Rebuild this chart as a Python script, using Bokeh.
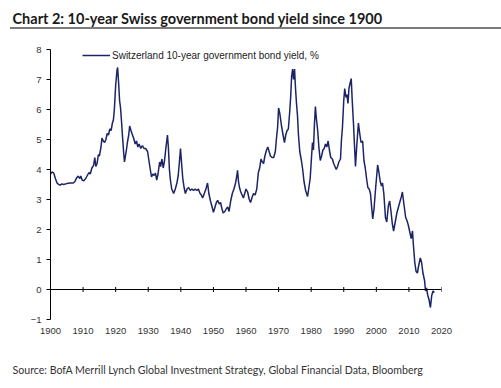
import math
from bokeh.plotting import figure
from bokeh.models import FixedTicker, Range1d, Legend, LegendItem, Span, Div
from bokeh.layouts import column
from bokeh.embed import file_html
from bokeh.resources import INLINE

# ---------------- data ----------------
years = [1900.0, 1900.5, 1901.0, 1901.5, 1902.0, 1902.5, 1903.0, 1903.5, 1904.0, 1905.0,
         1906.0, 1907.0, 1907.5, 1908.0, 1908.5, 1909.0, 1909.3, 1909.7, 1910.2, 1910.8,
         1911.3, 1911.8, 1912.2, 1912.7, 1913.2, 1913.6, 1913.9, 1914.3, 1914.7, 1915.0,
         1915.5, 1915.8, 1916.2, 1916.6, 1917.0, 1917.4, 1917.8, 1918.2, 1918.6, 1919.0,
         1919.3, 1919.6, 1920.0, 1920.4, 1920.6, 1920.9, 1921.2, 1921.5, 1921.8, 1922.1,
         1922.5, 1922.7, 1923.0, 1923.3, 1923.6, 1924.0, 1924.3, 1924.7, 1925.0, 1925.5,
         1926.0, 1926.4, 1926.8, 1927.2, 1927.7, 1928.2, 1928.7, 1929.2, 1929.8, 1930.2,
         1930.7, 1931.0, 1931.4, 1931.8, 1932.2, 1932.6, 1933.0, 1933.5, 1933.8, 1934.2,
         1934.6, 1935.0, 1935.5, 1935.9, 1936.2, 1936.5, 1936.8, 1937.2, 1937.8, 1938.3,
         1938.8, 1939.2, 1939.6, 1939.9, 1940.2, 1940.6, 1941.0, 1941.4, 1941.9, 1942.4,
         1942.9, 1943.4, 1943.9, 1944.4, 1944.9, 1945.4, 1945.9, 1946.3, 1946.7, 1947.2,
         1947.7, 1948.2, 1948.6, 1949.1, 1949.6, 1950.0, 1950.5, 1950.9, 1951.3, 1951.8,
         1952.2, 1952.6, 1953.0, 1953.5, 1954.0, 1954.4, 1954.8, 1955.3, 1955.8, 1956.3,
         1956.8, 1957.2, 1957.4, 1957.7, 1958.0, 1958.4, 1958.8, 1959.2, 1959.6, 1960.0,
         1960.5, 1961.0, 1961.4, 1961.8, 1962.3, 1962.8, 1963.3, 1963.8, 1964.2, 1964.6,
         1965.0, 1965.4, 1965.8, 1966.3, 1966.7, 1967.1, 1967.5, 1968.0, 1968.5, 1969.0,
         1969.4, 1969.7, 1970.0, 1970.4, 1970.9, 1971.3, 1971.8, 1972.2, 1972.6, 1973.0,
         1973.4, 1973.7, 1974.0, 1974.3, 1974.6, 1974.9, 1975.2, 1975.5, 1975.8, 1976.1,
         1976.5, 1977.0, 1977.4, 1977.8, 1978.3, 1978.9, 1979.3, 1979.7, 1980.1, 1980.4,
         1980.7, 1981.0, 1981.3, 1981.6, 1982.0, 1982.4, 1982.8, 1983.2, 1983.6, 1984.0,
         1984.4, 1984.8, 1985.2, 1985.6, 1986.0, 1986.5, 1986.9, 1987.3, 1987.7, 1988.1,
         1988.5, 1989.0, 1989.3, 1989.6, 1990.0, 1990.3, 1990.7, 1991.0, 1991.3, 1991.6,
         1992.0, 1992.3, 1992.6, 1993.0, 1993.3, 1993.6, 1994.0, 1994.5, 1994.9, 1995.3,
         1995.8, 1996.2, 1996.6, 1997.0, 1997.4, 1997.8, 1998.2, 1998.6, 1998.9, 1999.3,
         1999.8, 2000.4, 2000.8, 2001.2, 2001.6, 2001.9, 2002.3, 2002.8, 2003.2, 2003.7,
         2004.1, 2004.5, 2004.9, 2005.3, 2005.8, 2006.3, 2006.8, 2007.3, 2007.7, 2008.0,
         2008.4, 2009.0, 2009.4, 2009.8, 2010.3, 2010.7, 2011.1, 2011.4, 2011.8, 2012.2,
         2012.6, 2013.0, 2013.5, 2013.9, 2014.3, 2014.8, 2015.1, 2015.4, 2015.8, 2016.2,
         2016.6, 2017.0, 2017.4, 2017.8]

yields = [3.85, 3.92, 3.88, 3.70, 3.55, 3.50, 3.48, 3.52, 3.50, 3.53,
          3.55, 3.55, 3.60, 3.72, 3.78, 3.70, 3.78, 3.65, 3.62, 3.70,
          3.80, 3.90, 3.85, 4.05, 4.13, 4.40, 4.10, 4.20, 4.50, 4.45,
          4.75, 5.05, 4.95, 4.90, 5.00, 5.20, 5.15, 5.35, 5.30, 5.55,
          5.65, 6.00, 6.80, 7.30, 7.40, 6.90, 6.30, 6.05, 5.60, 5.10,
          4.50, 4.25, 4.45, 4.65, 4.90, 5.15, 5.45, 5.30, 5.20, 5.05,
          4.85, 4.95, 4.75, 4.85, 4.70, 4.80, 4.70, 4.70, 4.60, 4.30,
          3.95, 3.75, 3.85, 3.80, 3.88, 3.65, 3.85, 4.25, 4.10, 4.35,
          4.05, 4.30, 4.80, 5.15, 4.70, 4.00, 3.65, 3.35, 3.20, 3.35,
          3.55, 3.80, 4.30, 4.70, 4.25, 3.70, 3.40, 3.20, 3.35, 3.40,
          3.30, 3.35, 3.30, 3.35, 3.30, 3.35, 3.20, 3.15, 3.05, 3.20,
          3.35, 3.55, 3.20, 2.95, 2.75, 2.57, 2.75, 2.90, 2.97, 2.85,
          2.90, 2.70, 2.55, 2.60, 2.70, 2.75, 2.60, 2.95, 3.20, 3.35,
          3.55, 3.80, 3.97, 3.60, 3.40, 3.25, 3.15, 3.05, 3.20, 3.35,
          3.25, 3.00, 2.90, 3.05, 3.20, 3.15, 3.35, 3.90, 4.05, 4.35,
          4.25, 4.20, 4.45, 4.65, 4.75, 4.60, 4.45, 4.40, 4.40, 4.60,
          5.10, 5.40, 6.05, 5.85, 5.45, 5.20, 4.90, 5.15, 5.30, 5.35,
          5.90, 6.40, 7.10, 7.35, 7.00, 7.35, 6.70, 6.20, 5.80, 5.15,
          4.60, 4.30, 4.00, 3.60, 3.30, 3.10, 3.40, 3.70, 4.40, 4.90,
          4.65, 5.50, 6.10, 5.70, 5.30, 4.70, 4.30, 4.45, 4.65, 4.70,
          4.85, 4.75, 4.95, 4.65, 4.40, 4.35, 4.20, 4.10, 4.00, 4.10,
          4.25, 4.35, 5.00, 5.40, 6.30, 6.70, 6.40, 6.50, 6.20, 6.70,
          6.90, 7.03, 6.30, 5.50, 4.80, 4.10, 4.80, 5.55, 5.20, 4.90,
          4.95, 4.30, 4.05, 3.70, 3.40, 3.35, 3.20, 2.70, 2.35, 2.70,
          3.40, 4.15, 3.90, 3.60, 3.45, 3.55, 3.20, 2.40, 2.25, 2.80,
          2.95, 2.60, 2.20, 1.95, 2.25, 2.55, 2.75, 2.95, 3.10, 3.25,
          2.90, 2.40, 2.30, 2.15, 1.90, 1.70, 1.95, 1.45, 0.90, 0.60,
          0.55, 0.80, 1.05, 0.90, 0.55, 0.30, -0.05, 0.05, -0.20, -0.35,
          -0.60, -0.20, -0.05, -0.10]

x_ticks = [1900, 1910, 1920, 1930, 1940, 1950, 1960, 1970, 1980, 1990, 2000, 2010, 2020]
y_ticks = [-1, 0, 1, 2, 3, 4, 5, 6, 7, 8]

series_label = "Switzerland 10-year government bond yield, %"
title_text = "Chart 2: 10-year Swiss government bond yield since 1900"
source_text = "Source: BofA Merrill Lynch Global Investment Strategy, Global Financial Data, Bloomberg"

SANS = "Liberation Sans"
HEAD = "Lato"

W = 501


def strip(width, height, title=None, top=0, fill="white"):
    f = figure(width=width, height=height, output_backend="svg", toolbar_location=None,
               x_axis_type=None, y_axis_type=None,
               x_range=Range1d(0, 1), y_range=Range1d(0, 1),
               min_border_left=0, min_border_right=0,
               min_border_top=top, min_border_bottom=0, title=title)
    f.outline_line_color = None
    f.background_fill_color = fill
    f.border_fill_color = fill
    return f


# ---------------- header: title ----------------
header = strip(W, 27, title=title_text, top=26)
header.title.align = "left"
header.title.offset = -38
header.title.standoff = 0
header.title.text_font = HEAD
header.title.text_font_size = "14.5px"
header.title.text_font_style = "bold"
header.title.text_color = "#1a1a1a"

# ---------------- grey rule under the title (decoration only, no text) ----------------
rule = Div(text="", width=W - 10, height=2, margin=(0, 0, 0, 10),
           styles={"border-top": "2px solid #7c7c7c", "box-sizing": "border-box",
                   "padding": "0px"})

# ---------------- main chart ----------------
p = figure(width=W, height=311, output_backend="svg", toolbar_location=None,
           x_range=Range1d(1900, 2020), y_range=Range1d(-1, 8),
           min_border_left=50, min_border_right=60, min_border_top=20, min_border_bottom=21,
           title=None)
p.outline_line_color = None
p.background_fill_color = "white"
p.border_fill_color = "white"
p.xgrid.grid_line_color = None
p.ygrid.grid_line_color = None

# y axis
yax = p.yaxis[0]
yax.ticker = FixedTicker(ticks=y_ticks)
yax.axis_line_color = "black"
yax.major_tick_line_color = "black"
yax.major_tick_out = 4
yax.major_tick_in = 0
yax.minor_tick_line_color = None
yax.major_label_text_font = SANS
yax.major_label_text_font_size = "9.5px"
yax.major_label_text_color = "#333333"
yax.major_label_standoff = 5

# x axis: labels only, at the bottom
xax = p.xaxis[0]
xax.ticker = FixedTicker(ticks=x_ticks)
xax.axis_line_color = None
xax.major_tick_line_color = None
xax.major_tick_out = 0
xax.major_tick_in = 0
xax.minor_tick_line_color = None
xax.major_label_text_font = SANS
xax.major_label_text_font_size = "9.5px"
xax.major_label_text_color = "#333333"
xax.major_label_standoff = 8

# x axis line at zero with small ticks
p.add_layout(Span(location=0, dimension="width", line_color="black", line_width=1))
p.scatter(x=x_ticks, y=[0] * len(x_ticks), marker="dash", size=5, angle=math.pi / 2,
          line_color="black", line_width=1)

r = p.line(years, yields, line_color="#1c2466", line_width=1.5)

legend = Legend(items=[LegendItem(label=series_label, renderers=[r])],
                location=(32, 258), border_line_color=None, background_fill_alpha=0,
                padding=0, margin=0, glyph_width=28, glyph_height=12, label_height=12,
                label_standoff=2, label_text_font=SANS, label_text_font_size="10px",
                label_text_color="#222222")
p.add_layout(legend)

# ---------------- footer: source ----------------
footer = strip(W, 48, title=source_text, top=39)
footer.title.align = "left"
footer.title.offset = -38
footer.title.standoff = 8
footer.title.text_font = HEAD
footer.title.text_font_size = "10.6px"
footer.title.text_font_style = "normal"
footer.title.text_color = "#333333"

layout = column(header, rule, p, footer, spacing=0)

open("out.html", "w").write(file_html(layout, INLINE))
